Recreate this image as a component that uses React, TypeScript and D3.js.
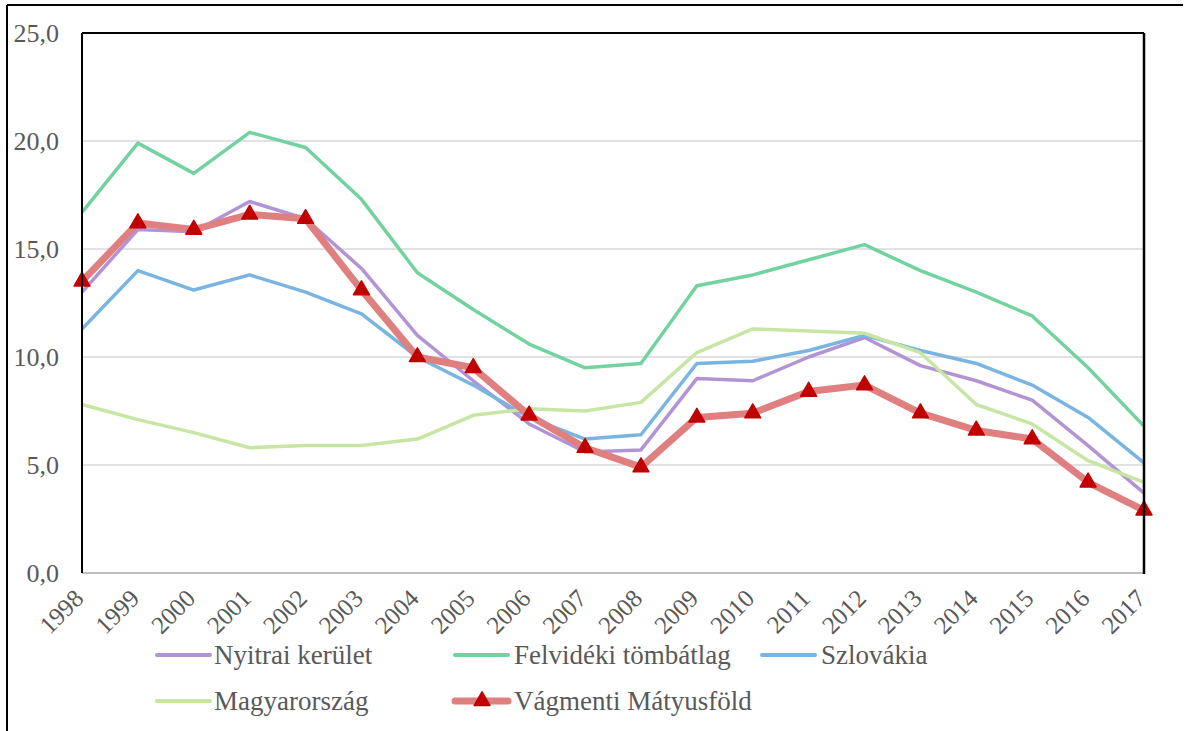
import React from "react";
import * as d3 from "d3";

const years = ["1998","1999","2000","2001","2002","2003","2004","2005","2006","2007","2008","2009","2010","2011","2012","2013","2014","2015","2016","2017"];
const nyitrai = [13.0,15.9,15.8,17.2,16.4,14.1,11.0,8.9,6.9,5.6,5.7,9.0,8.9,10.0,10.9,9.6,8.9,8.0,5.9,3.7];
const felvideki = [16.7,19.9,18.5,20.4,19.7,17.3,13.9,12.2,10.6,9.5,9.7,13.3,13.8,14.5,15.2,14.0,13.0,11.9,9.5,6.8];
const szlovakia = [11.3,14.0,13.1,13.8,13.0,12.0,10.0,8.7,7.2,6.2,6.4,9.7,9.8,10.3,11.0,10.3,9.7,8.7,7.2,5.1];
const magyarorszag = [7.8,7.1,6.5,5.8,5.9,5.9,6.2,7.3,7.6,7.5,7.9,10.2,11.3,11.2,11.1,10.2,7.8,6.9,5.2,4.2];
const vagmenti = [13.5,16.2,15.9,16.6,16.4,13.1,10.0,9.5,7.3,5.8,4.9,7.2,7.4,8.4,8.7,7.4,6.6,6.2,4.2,2.9];
const yTicks = [0, 5, 10, 15, 20, 25];

const seriesNames = ["Nyitrai kerület", "Felvidéki tömbátlag", "Szlovákia", "Magyarország", "Vágmenti Mátyusföld"];
const seriesColors = ["#b294d4", "#72d39f", "#79b5e0", "#c7e6a3", "#e07f7f"];
const seriesData = [nyitrai, felvideki, szlovakia, magyarorszag, vagmenti];

const W = 1184, H = 731;
const left = 82, right = 1144, top = 33, bottom = 573;
const FONT = "Liberation Serif";
const TXT = "#595959";

export default function App() {
  const x = d3.scalePoint<string>().domain(years).range([left, right]);
  const y = d3.scaleLinear().domain([0, 25]).range([bottom, top]);
  const line = d3.line<number>().x((_, i) => x(years[i]) as number).y(d => y(d));
  const tri = d3.symbol().type(d3.symbolTriangle).size(110)();

  const legendPos = [
    { lx: 157, tx: 214, by: 664 },
    { lx: 455, tx: 514, by: 664 },
    { lx: 762, tx: 821, by: 664 },
    { lx: 157, tx: 214, by: 710 },
    { lx: 455, tx: 514, by: 710 },
  ];

  return (
    <svg width={W} height={H} style={{ position: "absolute", left: 0, top: 0, background: "#fff" }}>
      {/* outer frame */}
      <line x1={7} y1={5} x2={1183} y2={5} stroke="#000" strokeWidth={2} />
      <line x1={7} y1={5} x2={7} y2={H} stroke="#000" strokeWidth={2} />

      {/* gridlines */}
      {yTicks.filter(t => t > 0 && t < 25).map(t => (
        <line key={t} x1={left} x2={right} y1={y(t)} y2={y(t)} stroke="#d9d9d9" strokeWidth={1.5} />
      ))}
      {/* bottom axis */}
      <line x1={left} x2={right} y1={bottom} y2={bottom} stroke="#bfbfbf" strokeWidth={2} />

      {/* series lines */}
      {seriesData.map((d, i) => (
        <path key={i} d={line(d) as string} fill="none" stroke={seriesColors[i]}
          strokeWidth={i === 4 ? 7 : 3.5} strokeLinejoin="round" />
      ))}
      {vagmenti.map((v, i) => (
        <path key={"m" + i} d={tri as string} transform={`translate(${x(years[i])},${y(v)})`}
          fill="#c00000" stroke="#c00000" strokeWidth={1.5} strokeLinejoin="round" />
      ))}

      {/* plot frame */}
      <line x1={left} x2={right} y1={top} y2={top} stroke="#000" strokeWidth={2} />
      <line x1={left} x2={left} y1={top} y2={bottom} stroke="#000" strokeWidth={2} />
      <line x1={right} x2={right} y1={top} y2={bottom + 1} stroke="#000" strokeWidth={2.5} />

      {/* y labels */}
      {yTicks.map(t => (
        <text key={t} x={59} y={y(t)} dy="0.35em" textAnchor="end" fontFamily={FONT} fontSize={26} fill={TXT}>
          {d3.format(".1f")(t).replace(".", ",")}
        </text>
      ))}
      {/* x labels */}
      {years.map(yr => (
        <text key={yr} transform={`translate(${(x(yr) as number) + 3},${600}) rotate(-45)`} textAnchor="end"
          fontFamily={FONT} fontSize={25} fill={TXT}>{yr}</text>
      ))}

      {/* legend */}
      {seriesNames.map((n, i) => {
        const p = legendPos[i];
        return (
          <g key={n}>
            <line x1={p.lx} x2={p.lx + 53} y1={p.by - 9} y2={p.by - 9} stroke={seriesColors[i]}
              strokeWidth={i === 4 ? 7 : 4} strokeLinecap="round" />
            {i === 4 && (
              <path d={tri as string} transform={`translate(${p.lx + 27},${p.by - 9})`} fill="#c00000" stroke="#c00000" strokeWidth={1.5} strokeLinejoin="round" />
            )}
            <text x={p.tx} y={p.by} fontFamily={FONT} fontSize={27} fill={TXT}>{n}</text>
          </g>
        );
      })}
    </svg>
  );
}
